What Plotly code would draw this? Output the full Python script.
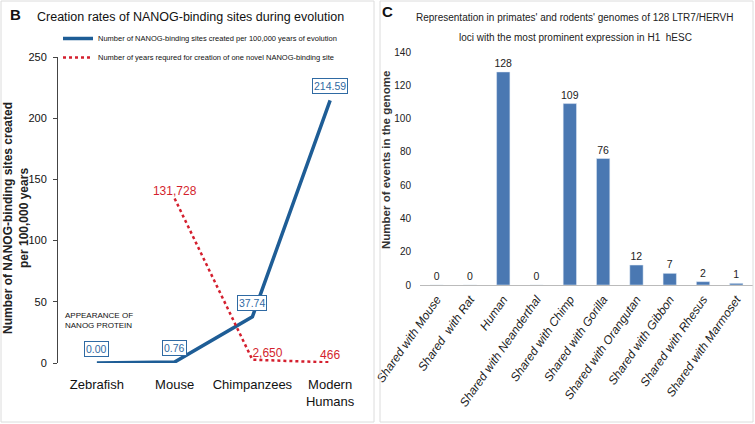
import plotly.graph_objects as go

# --- data ---
species = ["Zebrafish", "Mouse", "Chimpanzees", "Modern<br>Humans"]
sites_per_100k = [0.00, 0.76, 37.74, 214.59]
years_per_site = [None, 131728, 2650, 466]
years_labels = ["", "131,728", "2,650", "466"]

loci_groups = ["Shared with Mouse", "Shared  with Rat", "Human", "Shared with Neanderthal",
               "Shared with Chimp", "Shared with Gorilla", "Shared with Orangutan",
               "Shared with Gibbon", "Shared with Rhesus", "Shared with Marmoset"]
loci_counts = [0, 0, 128, 0, 109, 76, 12, 7, 2, 1]

W, H = 755, 424
FONT = "Liberation Sans, Arial, sans-serif"
BLUE = "#1e5d96"
RED = "#d41f2e"
BAR = "#4a78b2"


def px(x):
    return x / W


def py(y):
    return (H - y) / H


def note(x, y, text, size, color="#111", **kw):
    # text placed in window pixels, centred on (x, y) unless told otherwise
    d = dict(x=px(x), y=py(y), xref="paper", yref="paper", text=text, showarrow=False,
             xanchor="center", yanchor="middle", font=dict(family=FONT, size=size, color=color))
    d.update(kw)
    return d


fig = go.Figure()

# panel B
fig.add_trace(go.Scatter(
    x=species, y=sites_per_100k, mode="lines",
    line=dict(color=BLUE, width=3.5),
    name="Number of NANOG-binding sites created per 100,000 years of evolution",
    xaxis="x", yaxis="y",
))
fig.add_trace(go.Scatter(
    x=species, y=years_per_site, mode="lines+text",
    line=dict(color=RED, width=2.5, dash="dot"),
    text=years_labels,
    textposition=["top center", "top center", "top right", "top center"],
    textfont=dict(family=FONT, size=12, color=RED),
    name="Number of years requred for creation of one novel NANOG-binding site",
    xaxis="x", yaxis="y3", cliponaxis=False,
))

# panel C
fig.add_trace(go.Bar(
    x=loci_groups, y=loci_counts, marker_color=BAR, width=0.4,
    text=[str(v) for v in loci_counts], textposition="outside",
    textfont=dict(family=FONT, size=10.5, color="#222"), constraintext="none",
    cliponaxis=False, showlegend=False,
    xaxis="x2", yaxis="y2",
))

annotations = []
for sp, v in zip(species, sites_per_100k):
    annotations.append(dict(
        x=sp, y=v, xref="x", yref="y", text=f"{v:.2f}", showarrow=False,
        yshift=14, font=dict(family=FONT, size=10.5, color="#2f6aa3"),
        bordercolor="#2f6aa3", borderwidth=1, borderpad=1, bgcolor="white",
    ))

annotations += [
    note(8, 14, "<b>B</b>", 15, xanchor="left"),
    note(380, 12, "<b>C</b>", 15, xanchor="left"),
    note(190, 17, "Creation rates of NANOG-binding sites during evolution", 12.5),
    note(16, 218, "<b>Number of NANOG-binding sites created<br>per 100,000 years</b>", 12,
         "#222", textangle=-90),
    note(63, 320, "APPEARANCE OF<br>NANOG PROTEIN", 8, xanchor="left", align="left"),
    note(575, 17, "Representation in primates' and rodents' genomes of 128 LTR7/HERVH", 10, "#222"),
    note(575, 37, "loci with the most prominent expression in H1  hESC", 10, "#222"),
    note(386, 160, "<b>Number of events in the genome</b>", 11.5, "#333", textangle=-90),
]

shapes = [
    dict(type="rect", xref="paper", yref="paper", x0=px(1), x1=px(374), y0=py(422), y1=py(1),
         line=dict(color="#dcdcdc", width=1)),
    dict(type="rect", xref="paper", yref="paper", x0=px(380), x1=px(753), y0=py(422), y1=py(1),
         line=dict(color="#dcdcdc", width=1)),
]

fig.update_layout(
    width=W, height=H, margin=dict(l=0, r=0, t=0, b=0, autoexpand=False),
    paper_bgcolor="white", plot_bgcolor="white",
    annotations=annotations, shapes=shapes,
    xaxis=dict(domain=[px(58), px(369)], range=[-0.5, 3.5], showline=False, showgrid=False,
               ticks="", tickangle=0, tickfont=dict(family=FONT, size=13, color="#111"),
               ticklabelstandoff=12, zeroline=False),
    yaxis=dict(domain=[py(363), py(57)], range=[0, 250], showline=True, linecolor="#444",
               linewidth=1, ticks="outside", ticklen=4, tickcolor="#444", showgrid=False,
               zeroline=False, tickvals=[0, 50, 100, 150, 200, 250],
               tickfont=dict(family=FONT, size=11, color="#111"), ticklabelstandoff=4),
    yaxis3=dict(overlaying="y", range=[0, 245000], visible=False),
    xaxis2=dict(domain=[px(420), px(753)], range=[-0.5, 9.5], showline=False, showgrid=False,
                ticks="", tickangle=-55, anchor="y2", ticklabelstandoff=4,
                tickfont=dict(family=FONT, size=12, color="#222", style="italic")),
    yaxis2=dict(domain=[py(285), py(52)], range=[0, 140], showline=False, showgrid=False,
                zeroline=True, zerolinecolor="#bbb", zerolinewidth=1, anchor="x2",
                tickvals=list(range(0, 141, 20)), ticks="", ticklabelstandoff=8,
                tickfont=dict(family=FONT, size=10, color="#222")),
    legend=dict(x=px(58), y=py(24), xanchor="left", yanchor="top", bgcolor="rgba(0,0,0,0)",
                font=dict(family=FONT, size=7.5, color="#111"), itemwidth=30,
                tracegroupgap=0),
    showlegend=True,
)

# drop the default page margin so the 755x424 figure fills the window exactly
fig.write_html("out.html", config={"displayModeBar": False},
               post_script="document.body.style.margin='0';")
